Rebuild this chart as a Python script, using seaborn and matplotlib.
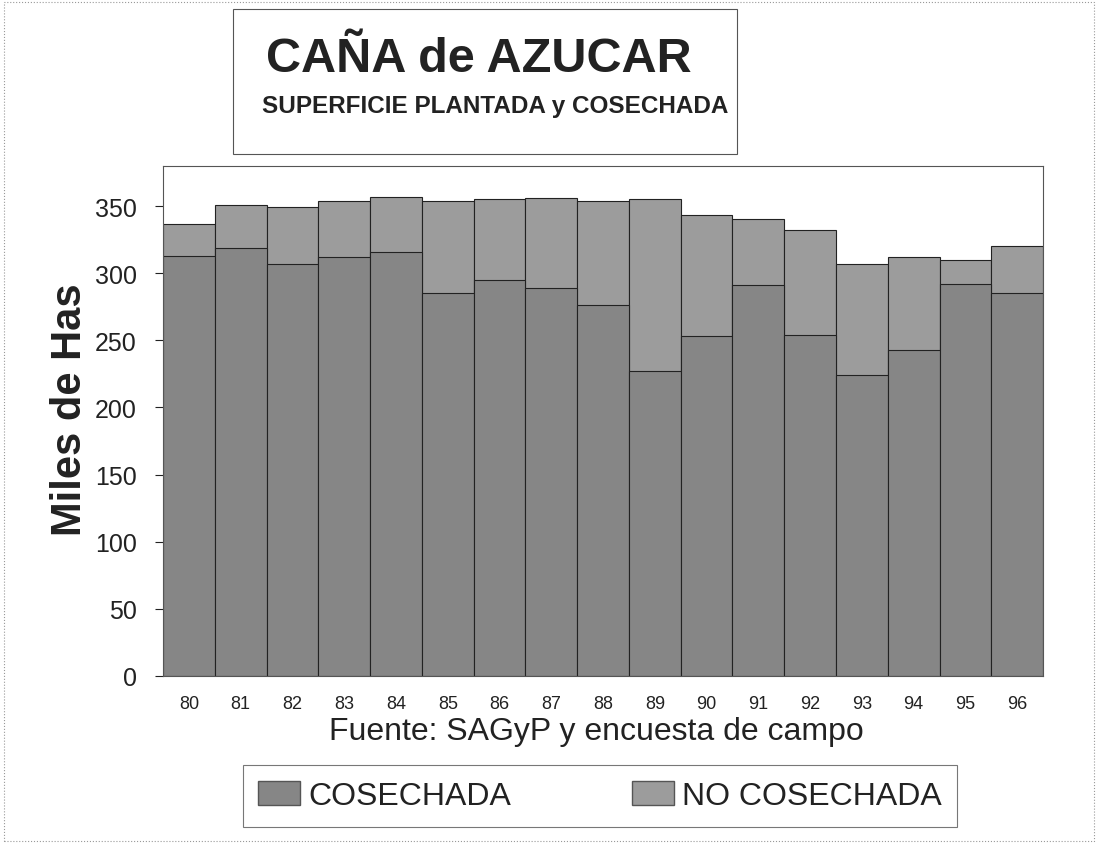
import numpy as np
import pandas as pd
import matplotlib
matplotlib.use("Agg")
import matplotlib.pyplot as plt
import seaborn as sns
from matplotlib.patches import Rectangle, Patch

# Datos (miles de hectareas)
anios = ['80', '81', '82', '83', '84', '85', '86', '87', '88',
         '89', '90', '91', '92', '93', '94', '95', '96']
plantada = [337, 351, 349, 354, 357, 354, 355, 356, 354,
            355, 343, 340, 332, 307, 312, 310, 320]
cosechada = [313, 319, 307, 312, 316, 285, 295, 289, 276,
             227, 253, 291, 254, 224, 243, 292, 285]

df = pd.DataFrame({'anio': anios, 'plantada': plantada, 'cosechada': cosechada})

color_cos = '#868686'
color_no = '#9c9c9c'

sns.set_theme(style="white")
plt.rcParams['font.family'] = ['Liberation Sans', 'DejaVu Sans']

fig = plt.figure(figsize=(10.98, 8.45), dpi=100)
ax = fig.add_axes([0.1485, 0.199, 0.8015, 0.6036])

# barra total (no cosechada arriba) y encima la parte cosechada
sns.barplot(data=df, x='anio', y='plantada', color=color_no, width=1.0,
            edgecolor='#222222', linewidth=0.8, saturation=1, ax=ax)
sns.barplot(data=df, x='anio', y='cosechada', color=color_cos, width=1.0,
            edgecolor='#222222', linewidth=0.8, saturation=1, ax=ax)

ax.set_xlim(-0.5, len(anios) - 0.5)
ax.set_ylim(0, 380)
ax.set_yticks(range(0, 351, 50))
ax.set_xlabel('')
ax.set_ylabel('Miles de Has', fontsize=30, fontweight='bold', color='#222222')
ax.yaxis.label.set_va('center')
ax.yaxis.set_label_coords((70 - 163) / 880, (677 - 410) / 510)
ax.tick_params(axis='y', labelsize=18, left=True, length=6, width=0.8, pad=13, colors='#222222')
ax.tick_params(axis='x', labelsize=13, bottom=False, length=0, pad=14, colors='#222222')
for s in ax.spines.values():
    s.set_color('#555555')
    s.set_linewidth(0.8)

# fuente debajo de los anios
fig.text(596 / 1098, 1 - 732 / 845, 'Fuente: SAGyP y encuesta de campo', ha='center', va='center',
         fontsize=23, color='#222222')

# caja del titulo
fig.patches.append(Rectangle((233 / 1098, 1 - 155 / 845), (737 - 233) / 1098, (155 - 10) / 845,
                             transform=fig.transFigure, fill=False, edgecolor='#555555', linewidth=0.8))
fig.text(479 / 1098, 1 - 60 / 845, 'CAÑA de AZUCAR', ha='center', va='center',
         fontsize=35, fontweight='bold', color='#222222')
fig.text(495 / 1098, 1 - 107 / 845, 'SUPERFICIE PLANTADA y COSECHADA', ha='center', va='center',
         fontsize=17.5, fontweight='bold', color='#222222')

# borde exterior
fig.patches.append(Rectangle((0.004, 0.004), 0.992, 0.992, transform=fig.transFigure,
                             fill=False, edgecolor='#999999', linewidth=0.8, linestyle=':'))

handles = [Patch(facecolor=color_cos, edgecolor='#555555', label='COSECHADA'),
           Patch(facecolor=color_no, edgecolor='#555555', label='NO COSECHADA')]
leg = fig.legend(handles=handles, loc='center', bbox_to_anchor=(600 / 1098, 1 - 797 / 845),
                 ncol=2, fontsize=23, frameon=True, fancybox=False, edgecolor='#555555',
                 handlelength=1.3, handleheight=0.8, handletextpad=0.25, columnspacing=3.8,
                 borderpad=0.5, borderaxespad=0, labelcolor='#222222')
leg.get_frame().set_linewidth(0.8)

fig.savefig('out.png', dpi=100)
